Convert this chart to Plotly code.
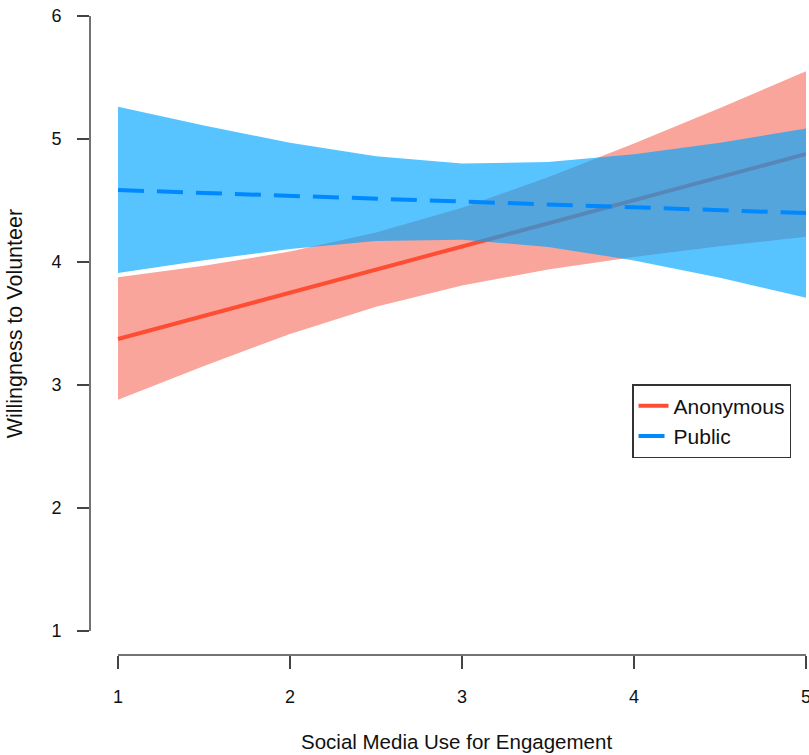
import plotly.graph_objects as go

# ---- data ----
x_vals = [1.0, 1.5, 2.0, 2.5, 3.0, 3.5, 4.0, 4.5, 5.0]

anon_fit = [3.374, 3.562, 3.750, 3.938, 4.126, 4.314, 4.502, 4.690, 4.878]
anon_lo = [2.880, 3.155, 3.415, 3.637, 3.810, 3.939, 4.041, 4.128, 4.205]
anon_hi = [3.876, 3.969, 4.085, 4.239, 4.442, 4.689, 4.963, 5.252, 5.551]

pub_fit = [4.585, 4.562, 4.538, 4.515, 4.491, 4.468, 4.445, 4.421, 4.398]
pub_lo = [3.910, 4.014, 4.106, 4.170, 4.181, 4.123, 4.013, 3.873, 3.710]
pub_hi = [5.262, 5.110, 4.970, 4.860, 4.801, 4.813, 4.877, 4.969, 5.085]

x_ticks = [1, 2, 3, 4, 5]
y_ticks = [1, 2, 3, 4, 5, 6]

series_names = ["Anonymous", "Public"]
x_title = "Social Media Use for Engagement"
y_title = "Willingness to Volunteer"

# ---- styles ----
RED_BAND = "rgb(250,165,155)"
RED_LINE = "#ff4d33"
BLUE_BAND = "rgba(0,165,255,0.66)"
BLUE_LINE = "#0088ff"
AXIS = "#444444"
FONT = "Liberation Sans, Arial, Helvetica, sans-serif"

fig = go.Figure()

# Anonymous band
fig.add_trace(go.Scatter(
    x=x_vals + x_vals[::-1], y=anon_hi + anon_lo[::-1],
    fill="toself", fillcolor=RED_BAND, mode="none",
    line=dict(width=0), showlegend=False, hoverinfo="skip"))
# Anonymous fit
fig.add_trace(go.Scatter(
    x=x_vals, y=anon_fit, mode="lines", name=series_names[0],
    line=dict(color=RED_LINE, width=4)))
# Public band
fig.add_trace(go.Scatter(
    x=x_vals + x_vals[::-1], y=pub_hi + pub_lo[::-1],
    fill="toself", fillcolor=BLUE_BAND, mode="none",
    line=dict(width=0), showlegend=False, hoverinfo="skip"))
# Public fit
fig.add_trace(go.Scatter(
    x=x_vals, y=pub_fit, mode="lines", name=series_names[1],
    line=dict(color=BLUE_LINE, width=4, dash="26px,13px")))

# axis lines drawn as in base R (detached)
fig.add_shape(type="line", xref="x", yref="paper",
              x0=x_ticks[0], x1=x_ticks[-1], y0=0, y1=0,
              line=dict(color=AXIS, width=1.5))
fig.add_shape(type="line", xref="paper", yref="y",
              x0=0, x1=0, y0=y_ticks[0], y1=y_ticks[-1],
              line=dict(color=AXIS, width=1.5))

fig.add_annotation(text=x_title, xref="x", yref="paper", x=2.97, y=-0.136,
                   showarrow=False, xanchor="center", yanchor="middle",
                   font=dict(size=20.5, color="#111111", family=FONT))
fig.add_annotation(text=y_title, xref="paper", yref="y", x=-0.105, y=3.5,
                   showarrow=False, textangle=-90, xanchor="center", yanchor="middle",
                   font=dict(size=21.5, color="#111111", family=FONT))

TICKFONT = dict(size=18, family=FONT, color="#111111")

fig.update_layout(
    width=809, height=755,
    margin=dict(l=90, r=3, t=16, b=100, autoexpand=False),
    paper_bgcolor="white", plot_bgcolor="white",
    font=dict(family=FONT, color="#111111", size=18),
    xaxis=dict(range=[0.8372, 5.0], tickvals=x_ticks, ticks="outside", ticklen=13,
               tickwidth=1.5, tickcolor=AXIS, showgrid=False, zeroline=False,
               showline=False, tickfont=TICKFONT, ticklabelstandoff=12,
               ticklabeloverflow="allow", automargin=False),
    yaxis=dict(range=[0.805, 6.0], tickvals=y_ticks, ticks="outside", ticklen=12,
               tickwidth=1.5, tickcolor=AXIS, showgrid=False, zeroline=False,
               showline=False, tickfont=TICKFONT, ticklabelstandoff=12,
               ticklabeloverflow="allow", automargin=False),
    legend=dict(x=0.757, y=0.424, xanchor="left", yanchor="top",
                bordercolor="#333333", borderwidth=1.5, bgcolor="white",
                font=dict(size=21, family=FONT, color="#111111"), itemwidth=30,
                tracegroupgap=0),
    showlegend=True,
)

fig.write_html("out.html", config={"displayModeBar": False},
               post_script="document.body.style.margin='0';")
